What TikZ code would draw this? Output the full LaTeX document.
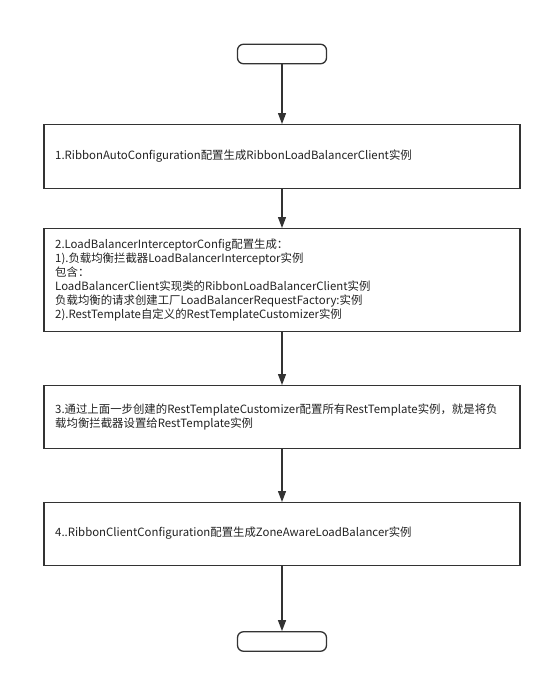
\documentclass[tikz,border=0pt]{standalone}
\usepackage{fontspec}
\setmainfont{Noto Sans CJK SC}
\usetikzlibrary{arrows.meta}
\definecolor{ln}{HTML}{333333}
\definecolor{tx}{HTML}{222222}
\begin{document}
\begin{tikzpicture}[x=1pt,y=-1pt,
  stepbox/.style={draw=ln,line width=1.3pt,minimum width=476pt,inner sep=0pt,anchor=north},
  term/.style={draw=ln,line width=1.3pt,rounded corners=6pt,minimum width=89pt,minimum height=19.5pt,inner sep=0pt},
  txt/.style={anchor=west,align=left,font=\fontsize{11.4}{14}\selectfont,text=tx,inner sep=0pt},
  arr/.style={draw=ln,line width=1.3pt,-{Triangle[length=11pt,width=8pt]}}]
\useasboundingbox (0,0) rectangle (550,680);
\node[term] (start) at (282,54) {};
\node[stepbox,minimum height=64pt] (b1) at (282,124) {};
\node[stepbox,minimum height=103pt] (b2) at (282,228) {};
\node[stepbox,minimum height=63pt] (b3) at (282,385) {};
\node[stepbox,minimum height=63pt] (b4) at (282,502) {};
\node[term] (end) at (282,641.5) {};
\node[txt] (t1) at (55,156) {1.RibbonAutoConfiguration配置生成RibbonLoadBalancerClient实例};
\node[txt] (t2) at (55,280) {2.LoadBalancerInterceptorConfig配置生成：\\1).负载均衡拦截器LoadBalancerInterceptor实例\\包含：\\LoadBalancerClient实现类的RibbonLoadBalancerClient实例\\负载均衡的请求创建工厂LoadBalancerRequestFactory:实例\\2).RestTemplate自定义的RestTemplateCustomizer实例};
\node[txt] (t3) at (55,416.5) {3.通过上面一步创建的RestTemplateCustomizer配置所有RestTemplate实例，就是将负\\载均衡拦截器设置给RestTemplate实例};
\node[txt] (t4) at (55,533.5) {4..RibbonClientConfiguration配置生成ZoneAwareLoadBalancer实例};
\draw[arr] (start) -- (b1);
\draw[arr] (b1) -- (b2);
\draw[arr] (b2) -- (b3);
\draw[arr] (b3) -- (b4);
\draw[arr] (b4) -- (end);
\end{tikzpicture}
\end{document}
